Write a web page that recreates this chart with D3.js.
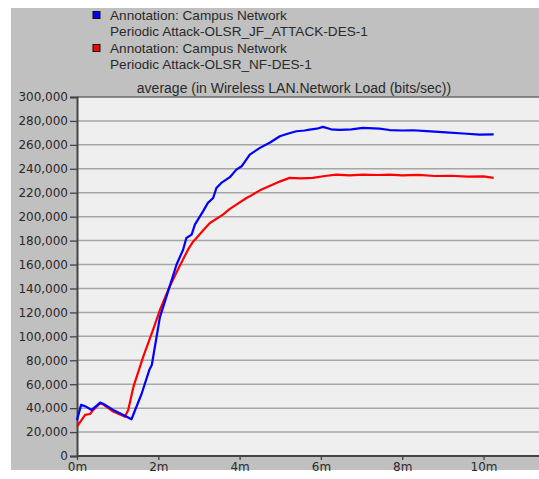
<!DOCTYPE html>
<html>
<head>
<meta charset="utf-8">
<script src="https://cdn.jsdelivr.net/npm/d3@7"></script>
<style>
  body { margin: 0; background: #fff; }
  svg { display: block; font-family: "Liberation Sans", Arial, sans-serif; }
</style>
</head>
<body>
<svg id="chart" width="539" height="479"></svg>
<script>
// --- Données (temps en minutes, charge en bits/sec) ---
const blueTime = [0, 0.1, 0.22, 0.36, 0.5, 0.57, 0.65, 0.89, 1.14, 1.34, 1.59, 1.78, 1.84, 2.04, 2.28, 2.45, 2.61, 2.69, 2.82, 2.9, 3.1, 3.22, 3.35, 3.43, 3.55, 3.76, 3.92, 4.05, 4.25, 4.5, 4.75, 4.99, 5.2, 5.4, 5.6, 5.72, 5.9, 6.05, 6.25, 6.46, 6.75, 7.03, 7.44, 7.69, 8.0, 8.26, 8.6, 9.08, 9.5, 9.9, 10.25];
const blueLoad = [30000, 42700, 41300, 38500, 42500, 44600, 43500, 38500, 34300, 30700, 52000, 72000, 76000, 116000, 141700, 160000, 172400, 182200, 185000, 193300, 204400, 211500, 215600, 224000, 228200, 233000, 239300, 242100, 251900, 257500, 262000, 267200, 269500, 271400, 272000, 272800, 273500, 275000, 273000, 272500, 273000, 274200, 273600, 272400, 272000, 272200, 271500, 270500, 269500, 268600, 268800];

const redTime = [0, 0.2, 0.32, 0.4, 0.57, 0.65, 0.89, 1.1, 1.18, 1.26, 1.39, 1.63, 1.87, 2.05, 2.28, 2.5, 2.73, 2.86, 2.94, 3.1, 3.27, 3.59, 3.76, 3.92, 4.17, 4.25, 4.5, 4.82, 5.0, 5.23, 5.5, 5.8, 6.1, 6.38, 6.7, 7.03, 7.4, 7.69, 8.0, 8.4, 8.8, 9.2, 9.6, 10.0, 10.25];
const redLoad = [24500, 34300, 35100, 38500, 44100, 43000, 37100, 34000, 32900, 38500, 58000, 83100, 105400, 123000, 141700, 157000, 172400, 179300, 182200, 188500, 194700, 201700, 206500, 210000, 215600, 217000, 222000, 226800, 229500, 232400, 232000, 232400, 234000, 235100, 234500, 235100, 234800, 235100, 234500, 235000, 234000, 234200, 233500, 233600, 232400];

const yTicks = [0, 20000, 40000, 60000, 80000, 100000, 120000, 140000, 160000, 180000, 200000, 220000, 240000, 260000, 280000, 300000];
const xTicks = [0, 2, 4, 6, 8, 10];

const legendLabels = [
    ["Annotation: Campus Network", "Periodic Attack-OLSR_JF_ATTACK-DES-1"],
    ["Annotation: Campus Network", "Periodic Attack-OLSR_NF-DES-1"]
];
const seriesColors = ["#0000ff", "#ff0000"];
const chartTitle = "average (in Wireless LAN.Network Load (bits/sec))";

// --- Mise en page ---
const svg = d3.select("#chart");
const plot = {left: 77, top: 97, right: 545, bottom: 456};
const textColor = "#2a2a2a";

// fond gris
svg.append("rect")
    .attr("x", 11).attr("y", 8)
    .attr("width", 539 - 11).attr("height", 470 - 8)
    .attr("fill", "#c0c0c0");

// zone de tracé
svg.append("rect")
    .attr("x", plot.left).attr("y", plot.top)
    .attr("width", plot.right - plot.left).attr("height", plot.bottom - plot.top)
    .attr("fill", "#efefef");

// Echelles
const x = d3.scaleLinear().domain([0, 10]).range([plot.left, 483.5]);
const y = d3.scaleLinear().domain([0, 300000]).range([plot.bottom, plot.top]);

// Grille horizontale
svg.append("g")
    .selectAll("line")
    .data(yTicks.slice(1, -1))
    .join("line")
    .attr("x1", plot.left).attr("x2", plot.right)
    .attr("y1", d => y(d)).attr("y2", d => y(d))
    .attr("stroke", "#a6a6a6")
    .attr("stroke-width", 1.5);

// Bord supérieur
svg.append("line")
    .attr("x1", plot.left).attr("x2", plot.right)
    .attr("y1", plot.top).attr("y2", plot.top)
    .attr("stroke", "#6a6a6a").attr("stroke-width", 1.5);

// Axes
const yAxis = svg.append("g")
    .attr("transform", `translate(${plot.left},0)`)
    .call(d3.axisLeft(y).tickValues(yTicks).tickFormat(d3.format(",")).tickSize(7).tickPadding(2));

const xAxis = svg.append("g")
    .attr("transform", `translate(0,${plot.bottom})`)
    .call(d3.axisBottom(x).tickValues(xTicks).tickFormat(d => d + "m").tickSize(4).tickPadding(2));

[yAxis, xAxis].forEach(a => {
    a.select(".domain").attr("stroke", "#444").attr("stroke-width", 2);
    a.selectAll(".tick line").attr("stroke", "#444").attr("stroke-width", 1.3);
    a.selectAll(".tick text")
        .attr("fill", textColor)
        .style("font-size", "12px")
        .style("font-family", "'DejaVu Sans', sans-serif");
});
xAxis.select(".domain").attr("d", `M${plot.left},0H${plot.right}`);

// Courbes
const line = d3.line()
    .x(d => x(d[0]))
    .y(d => y(d[1]));

const series = [
    d3.zip(blueTime, blueLoad),
    d3.zip(redTime, redLoad)
];

// rouge d'abord, bleu par-dessus
[1, 0].forEach(i => {
    svg.append("path")
        .datum(series[i])
        .attr("d", line)
        .attr("fill", "none")
        .attr("stroke", seriesColors[i])
        .attr("stroke-width", 2.2)
        .attr("stroke-linejoin", "round");
});

// Légende
legendLabels.forEach((lab, i) => {
    const y0 = 15 + i * 33;
    svg.append("rect")
        .attr("x", 93).attr("y", y0 - 3.5)
        .attr("width", 7).attr("height", 7)
        .attr("fill", seriesColors[i])
        .attr("stroke", "#111").attr("stroke-width", 1);
    lab.forEach((t, j) => {
        svg.append("text")
            .attr("x", 110).attr("y", y0 + j * 16)
            .attr("dy", "0.35em")
            .attr("fill", textColor)
            .style("font-size", "13.6px")
            .text(t);
    });
});

// Titre
svg.append("text")
    .attr("x", 294).attr("y", 88)
    .attr("dy", "0.35em")
    .attr("text-anchor", "middle")
    .attr("fill", textColor)
    .style("font-size", "14px")
    .text(chartTitle);
</script>
</body>
</html>
